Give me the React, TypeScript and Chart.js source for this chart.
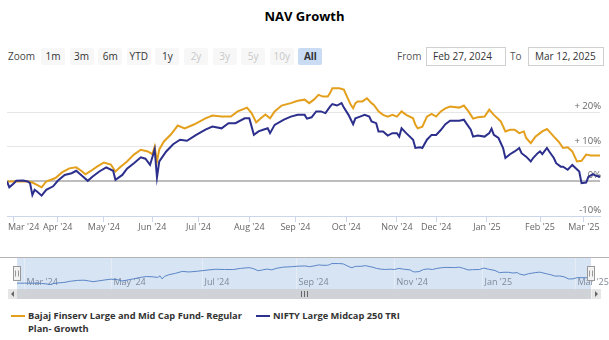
import React, { useEffect, useRef } from "react";
import { Chart, registerables } from "chart.js";

Chart.register(...registerables);

const FONT = "'Open Sans', 'DejaVu Sans', sans-serif";
const ORANGE = "#e49f1c";
const NAVY = "#2c2f8c";

const chartTitle = "NAV Growth";
const fundNameLines = ["Bajaj Finserv Large and Mid Cap Fund- Regular", "Plan- Growth"];
const indexName = "NIFTY Large Midcap 250 TRI";
const rangeButtons = ["1m", "3m", "6m", "YTD", "1y", "2y", "3y", "5y", "10y", "All"];
const disabledButtons = ["2y", "3y", "5y", "10y"];
const selectedButton = "All";
const fromDate = "Feb 27, 2024";
const toDate = "Mar 12, 2025";

// x = trading-day number from Feb 27, 2024 (ordinal axis)
const lastDay = 257;
const monthTickDays = [3, 22, 42, 63, 83, 105, 125, 147, 169, 186, 208, 231, 250];
const monthTickLabels = ["Mar '24", "Apr '24", "May '24", "Jun '24", "Jul '24", "Aug '24", "Sep '24", "Oct '24", "Nov '24", "Dec '24", "Jan '25", "Feb '25", "Mar '25"];
const navTickDays = [3, 42, 83, 125, 169, 208, 250];
const navTickLabels = ["Mar '24", "May '24", "Jul '24", "Sep '24", "Nov '24", "Jan '25", "Mar '25"];
const yTicks = [-10, 0, 10, 20];
const yTickLabels = ["-10%", "0%", "+ 10%", "+ 20%"];

// growth in %, Bajaj Finserv Large and Mid Cap Fund
const fundDays = [0, 1, 6, 9, 11, 13, 15, 17, 21, 24, 27, 30, 32, 34, 36, 39, 42, 45, 47, 49, 52, 55, 58, 61, 63, 64, 65, 66, 68, 71, 74, 77, 81, 86, 89, 93, 97, 100, 104, 106, 108, 110, 112, 114, 116, 119, 123, 126, 129, 131, 133, 135, 137, 139, 140, 141, 144, 146, 147, 149, 150, 151, 152, 154, 156, 158, 159, 161, 163, 165, 167, 169, 171, 173, 176, 177, 178, 180, 182, 184, 186, 188, 190, 192, 196, 198, 200, 202, 204, 207, 209, 211, 214, 216, 218, 220, 222, 224, 225, 227, 229, 231, 232, 234, 235, 237, 239, 241, 243, 245, 247, 249, 251, 253, 257];
const fundValues = [0, 0, 0, 0, -0.3, -1.0, -1.7, 0, 1.0, 2.7, 3.8, 4.1, 3.2, 2.1, 2.9, 4.3, 5.5, 4.9, 2.9, 4.1, 5.8, 7.8, 9.2, 8.7, 7.9, 10.1, 5.8, 9.3, 11.6, 13.6, 16.2, 15.4, 16.5, 18.3, 19.1, 18.8, 18.8, 20.3, 21.4, 19.8, 17.1, 18.3, 19.4, 18.3, 20.3, 22.0, 22.7, 23.4, 23.7, 22.7, 23.7, 25.1, 24.6, 24.6, 25.6, 27.0, 27.0, 26.6, 25.1, 22.2, 21.2, 22.7, 23.2, 23.2, 24.1, 22.7, 22.2, 20.3, 19.3, 18.8, 19.3, 18.8, 20.3, 19.3, 18.3, 16.4, 15.4, 15.9, 18.8, 19.6, 18.8, 20.3, 21.2, 21.7, 21.4, 22.0, 20.3, 18.2, 18.6, 18.8, 20.8, 19.3, 17.4, 14.5, 15.0, 15.0, 14.0, 14.5, 12.6, 11.1, 13.0, 14.0, 14.5, 15.2, 14.5, 13.0, 11.6, 9.7, 9.9, 8.7, 5.8, 6.0, 7.8, 7.5, 7.5];

// growth in %, NIFTY Large Midcap 250 TRI
const indexDays = [0, 1, 3, 4, 7, 9, 10, 11, 12, 13, 15, 17, 20, 22, 25, 28, 30, 33, 35, 37, 40, 43, 46, 47, 50, 52, 55, 58, 60, 62, 64, 65, 66, 69, 72, 75, 78, 82, 86, 89, 93, 96, 99, 103, 105, 107, 109, 111, 113, 114, 116, 120, 123, 126, 127, 129, 130, 132, 134, 136, 138, 140, 141, 143, 145, 146, 148, 150, 151, 153, 155, 157, 158, 160, 161, 163, 165, 167, 169, 170, 171, 173, 176, 177, 179, 180, 182, 184, 186, 188, 190, 192, 196, 198, 199, 201, 202, 204, 207, 209, 210, 211, 213, 215, 216, 218, 220, 222, 223, 225, 227, 228, 230, 231, 232, 234, 235, 237, 238, 240, 241, 243, 245, 248, 249, 251, 252, 254, 255, 257];
const indexValues = [0, -1.7, -0.5, 0.2, 0.3, 0, -0.5, -3.9, -2.4, -2.9, -4.1, -2.4, -1.4, 0.2, 1.9, 2.4, 3.1, 1.4, 0.2, 1.4, 2.9, 4.1, 3.1, 0.5, 1.9, 3.7, 5.3, 7.0, 6.6, 4.8, 9.3, 1.2, 5.8, 8.7, 10.8, 12.1, 11.8, 13.5, 15.0, 15.9, 15.4, 16.9, 16.9, 18.3, 18.3, 13.5, 14.5, 15.0, 15.4, 14.0, 16.4, 17.9, 18.8, 19.3, 19.3, 19.3, 18.2, 18.6, 20.3, 20.3, 19.8, 21.7, 22.4, 22.0, 22.7, 21.4, 19.3, 16.6, 18.3, 18.8, 19.3, 18.8, 17.4, 16.9, 14.5, 14.5, 13.3, 14.0, 14.0, 13.0, 15.4, 14.0, 12.1, 9.7, 9.9, 9.7, 12.1, 13.5, 13.5, 14.9, 16.6, 17.6, 17.6, 17.9, 16.9, 15.0, 13.0, 13.3, 13.0, 14.0, 15.3, 13.5, 12.6, 9.7, 6.8, 7.9, 8.7, 9.7, 8.2, 7.2, 5.8, 6.8, 8.2, 8.7, 7.9, 9.7, 8.7, 6.8, 5.3, 4.3, 4.3, 3.4, 4.8, 2.9, -0.5, -0.3, 1.4, 2.1, 1.7, 1.4];

const toPoints = (xs: number[], ys: number[]) => xs.map((x, i) => ({ x, y: ys[i] }));

const mainLabels = {
  id: "mainLabels",
  beforeDatasetsDraw(chart: any) {
    const { ctx, chartArea } = chart;
    const ys = chart.scales.y;
    ctx.save();
    ctx.font = `9.5px ${FONT}`;
    ctx.fillStyle = "#666666";
    ctx.textAlign = "right";
    ctx.textBaseline = "alphabetic";
    yTicks.forEach((v, i) => {
      ctx.fillText(yTickLabels[i], chartArea.right + 1, ys.getPixelForValue(v) - 3);
    });
    ctx.restore();
  },
  afterDraw(chart: any) {
    const { ctx, chartArea } = chart;
    const xs = chart.scales.x;
    ctx.save();
    ctx.font = `9px ${FONT}`;
    ctx.fillStyle = "#666666";
    ctx.textAlign = "left";
    ctx.textBaseline = "middle";
    monthTickDays.forEach((v, i) => {
      const t = monthTickLabels[i];
      const w = ctx.measureText(t).width;
      let x = xs.getPixelForValue(v) - w / 2;
      x = Math.max(chartArea.left + 1, Math.min(x, chart.width - w - 2));
      ctx.fillText(t, x, xs.top + 11);
    });
    ctx.restore();
  },
};

const navDecor = {
  id: "navDecor",
  beforeDatasetsDraw(chart: any) {
    const { ctx, chartArea } = chart;
    const xs = chart.scales.x;
    ctx.save();
    ctx.fillStyle = "#d7e4f4";
    ctx.fillRect(chartArea.left, chartArea.top, chartArea.right - chartArea.left, chartArea.bottom - chartArea.top);
    ctx.strokeStyle = "#e6edf7";
    ctx.lineWidth = 1;
    ctx.font = `9px ${FONT}`;
    ctx.fillStyle = "#7f8899";
    ctx.textBaseline = "middle";
    navTickDays.forEach((v, i) => {
      const px = Math.round(xs.getPixelForValue(v)) + 0.5;
      ctx.beginPath();
      ctx.moveTo(px, chartArea.top);
      ctx.lineTo(px, chartArea.bottom);
      ctx.stroke();
      ctx.fillText(navTickLabels[i], px + 2, chartArea.bottom - 7);
    });
    ctx.restore();
  },
  afterDraw(chart: any) {
    const { ctx, chartArea } = chart;
    ctx.save();
    ctx.strokeStyle = "#b3b3b3";
    ctx.lineWidth = 1;
    ctx.beginPath();
    ctx.moveTo(0, chartArea.top + 0.5);
    ctx.lineTo(chart.width, chartArea.top + 0.5);
    ctx.stroke();
    const cy = (chartArea.top + chartArea.bottom) / 2;
    [chartArea.left, chartArea.right].forEach((hx: number) => {
      const x0 = Math.round(hx - 4) + 0.5;
      const y0 = Math.round(cy - 7) + 0.5;
      ctx.fillStyle = "#f2f2f2";
      ctx.strokeStyle = "#999999";
      ctx.fillRect(x0, y0, 7, 14);
      ctx.strokeRect(x0, y0, 7, 14);
      ctx.beginPath();
      ctx.moveTo(x0 + 2, y0 + 4);
      ctx.lineTo(x0 + 2, y0 + 10);
      ctx.moveTo(x0 + 5, y0 + 4);
      ctx.lineTo(x0 + 5, y0 + 10);
      ctx.stroke();
    });
    ctx.restore();
  },
};

export default function App() {
  const mainRef = useRef<HTMLCanvasElement>(null);
  const navRef = useRef<HTMLCanvasElement>(null);

  useEffect(() => {
    document.body.style.margin = "0";
    const main = new Chart(mainRef.current as HTMLCanvasElement, {
      type: "line",
      data: {
        datasets: [
          { label: indexName, data: toPoints(indexDays, indexValues), borderColor: NAVY, borderWidth: 2, pointRadius: 0, tension: 0, order: 0 },
          { label: fundNameLines.join(" "), data: toPoints(fundDays, fundValues), borderColor: ORANGE, borderWidth: 2, pointRadius: 0, tension: 0, order: 1 },
        ],
      } as any,
      options: {
        responsive: false,
        animation: false,
        devicePixelRatio: 1,
        layout: { padding: { left: 7, right: 9, top: 10, bottom: 7 } },
        plugins: { legend: { display: false }, tooltip: { enabled: false } },
        scales: {
          x: {
            type: "linear",
            min: 0,
            max: lastDay,
            afterBuildTicks: (s: any) => { s.ticks = monthTickDays.map((value) => ({ value })); },
            afterFit: (s: any) => { s.height = 22; s.paddingLeft = 0; s.paddingRight = 0; },
            ticks: { display: false },
            grid: { drawOnChartArea: false, drawTicks: true, tickLength: 6, tickColor: "#ccd6eb" },
            border: { color: "#ccd6eb", width: 1 },
          },
          y: {
            type: "linear",
            position: "right",
            min: -10,
            max: 29.4,
            afterBuildTicks: (s: any) => { s.ticks = yTicks.map((value) => ({ value })); },
            afterFit: (s: any) => { s.width = 0; },
            ticks: { display: false },
            grid: {
              drawTicks: false,
              color: (c: any) => (c.tick && c.tick.value === 0 ? "#bdbdbd" : "#e6e6e6"),
              lineWidth: (c: any) => (c.tick && c.tick.value === 0 ? 2 : 1),
            },
            border: { display: false },
          },
        },
      } as any,
      plugins: [mainLabels],
    });

    const nav = new Chart(navRef.current as HTMLCanvasElement, {
      type: "line",
      data: {
        datasets: [
          { data: toPoints(fundDays, fundValues), borderColor: "#5b86c6", borderWidth: 1, pointRadius: 0, tension: 0, fill: false },
        ],
      } as any,
      options: {
        responsive: false,
        animation: false,
        devicePixelRatio: 1,
        layout: { padding: { left: 17, right: 18, top: 0, bottom: 0 } },
        plugins: { legend: { display: false }, tooltip: { enabled: false } },
        scales: {
          x: { type: "linear", min: 0, max: lastDay, display: false },
          y: { type: "linear", min: -8, max: 36, display: false },
        },
      } as any,
      plugins: [navDecor],
    });

    return () => {
      main.destroy();
      nav.destroy();
    };
  }, []);

  const btnLeft = (i: number) => 41 + i * 28.6;

  return (
    <div style={{ position: "relative", width: 609, height: 340, overflow: "hidden", background: "#ffffff", fontFamily: FONT }}>
      <div style={{ position: "absolute", left: 0, top: 6, width: 609, textAlign: "center", fontSize: 13, fontWeight: 700, color: "#000", lineHeight: "20px" }}>
        {chartTitle}
      </div>

      <div style={{ position: "absolute", left: 8, top: 48, height: 17, lineHeight: "17px", fontSize: 10, color: "#444" }}>Zoom</div>
      {rangeButtons.map((b, i) => {
        const disabled = disabledButtons.includes(b);
        const selected = b === selectedButton;
        return (
          <div
            key={b}
            style={{
              position: "absolute",
              left: btnLeft(i),
              top: 48,
              width: 24,
              height: 17,
              lineHeight: "17px",
              textAlign: "center",
              fontSize: 10,
              borderRadius: 2,
              background: selected ? "#c9dcf3" : "#f7f7f7",
              color: disabled ? "#c8c8c8" : "#333",
              fontWeight: selected ? 700 : 400,
            }}
          >
            {b}
          </div>
        );
      })}

      <div style={{ position: "absolute", left: 397, top: 48, height: 17, lineHeight: "17px", fontSize: 10, color: "#555" }}>From</div>
      <div style={{ position: "absolute", left: 426, top: 47, width: 72, height: 17, lineHeight: "17px", border: "1px solid #d0d0d0", fontSize: 10, color: "#333", paddingLeft: 6, boxSizing: "content-box" }}>{fromDate}</div>
      <div style={{ position: "absolute", left: 510, top: 48, height: 17, lineHeight: "17px", fontSize: 10, color: "#555" }}>To</div>
      <div style={{ position: "absolute", left: 528, top: 47, width: 68, height: 17, lineHeight: "17px", border: "1px solid #d0d0d0", fontSize: 10, color: "#333", paddingLeft: 6, boxSizing: "content-box" }}>{toDate}</div>

      <canvas ref={mainRef} width={609} height={175} style={{ position: "absolute", left: 0, top: 70, width: 609, height: 175 }} />
      <canvas ref={navRef} width={609} height={32} style={{ position: "absolute", left: 0, top: 257, width: 609, height: 32 }} />

      {/* scrollbar */}
      <div style={{ position: "absolute", left: 8, top: 289, width: 593, height: 10, background: "#f2f2f2" }} />
      <div style={{ position: "absolute", left: 17, top: 289, width: 574, height: 10, background: "#cfd2d6" }} />
      <div style={{ position: "absolute", left: 8, top: 289, width: 9, height: 10, background: "#e6e6e6" }} />
      <div style={{ position: "absolute", left: 592, top: 289, width: 9, height: 10, background: "#e6e6e6" }} />
      <div style={{ position: "absolute", left: 11, top: 291, width: 0, height: 0, borderTop: "3px solid transparent", borderBottom: "3px solid transparent", borderRight: "3px solid #666" }} />
      <div style={{ position: "absolute", left: 595, top: 291, width: 0, height: 0, borderTop: "3px solid transparent", borderBottom: "3px solid transparent", borderLeft: "3px solid #666" }} />
      {[0, 1, 2].map((k) => (
        <div key={k} style={{ position: "absolute", left: 301 + k * 3, top: 291, width: 1, height: 6, background: "#666" }} />
      ))}

      {/* legend */}
      <div style={{ position: "absolute", left: 11, top: 315, width: 14, height: 2, background: ORANGE }} />
      <div style={{ position: "absolute", left: 28, top: 309, fontSize: 9.3, fontWeight: 700, color: "#333", lineHeight: "13px", whiteSpace: "nowrap" }}>
        {fundNameLines[0]}
        <br />
        {fundNameLines[1]}
      </div>
      <div style={{ position: "absolute", left: 256, top: 315, width: 14, height: 2, background: NAVY }} />
      <div style={{ position: "absolute", left: 273, top: 309, fontSize: 9.3, fontWeight: 700, color: "#333", lineHeight: "13px", whiteSpace: "nowrap" }}>
        {indexName}
      </div>
    </div>
  );
}
